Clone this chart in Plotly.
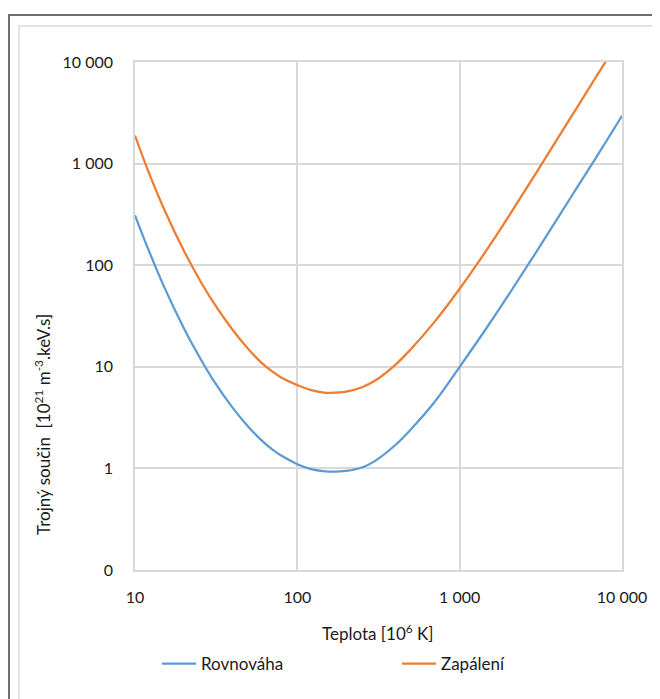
import plotly.graph_objects as go

# Temperature [10^6 K]
teplota = [10, 12, 15, 20, 25, 30, 40, 50, 60, 70, 80, 100, 120, 150, 160, 200, 250,
           300, 400, 500, 700, 1000, 1500, 2000, 3000, 5000, 7000, 8000, 10000]

rovnovaha = [310, 147, 63, 24, 12.4, 7.6, 3.94, 2.56, 1.9, 1.54, 1.33, 1.1, 0.99, 0.935,
             0.93, 0.945, 1.02, 1.18, 1.69, 2.42, 4.5, 10, 25.5, 51, 139, 505, 1180, 1660, 2950]

zapaleni = [1890, 863, 366, 139, 72, 44.5, 23, 14.9, 11.0, 9.0, 7.8, 6.6, 5.93, 5.55,
            5.53, 5.69, 6.29, 7.28, 10.4, 14.9, 27.7, 58.6, 149, 301, 838, 3100, 7330, 10300, None]

y_tickvals = [0.1, 1, 10, 100, 1000, 10000]
y_ticktext = ["0", "1", "10", "100", "1 000", "10 000"]
x_tickvals = [10, 100, 1000, 10000]
x_ticktext = ["10", "100", "1 000", "10 000"]

W, H = 660, 699
OFF = 8  # page body margin
L, R, T, B = 135 - OFF, 622 - OFF, 62 - OFF, 570 - OFF
pw, ph = R - L, B - T

def px(x):
    return (x - OFF - L) / pw

def py(y):
    return (B - (y - OFF)) / ph

FONT = "Lato"
TXT = "#1a1a1a"
GRID = "#d9d9d9"

fig = go.Figure()
fig.add_trace(go.Scatter(x=teplota, y=rovnovaha, mode="lines", name="Rovnováha", legend="legend",
                         line=dict(color="#5b9bd5", width=2.25, shape="spline", smoothing=1.0)))
fig.add_trace(go.Scatter(x=teplota, y=zapaleni, mode="lines", name="Zapálení", legend="legend2",
                         line=dict(color="#ed7d31", width=2.25, shape="spline", smoothing=1.0)))

leg_common = dict(xanchor="left", yanchor="middle", font=dict(size=17, color=TXT, family=FONT),
                  bgcolor="rgba(0,0,0,0)", itemwidth=34)

fig.update_layout(
    width=W, height=H,
    margin=dict(l=L, r=W - R, t=T, b=H - B),
    paper_bgcolor="white", plot_bgcolor="white",
    font=dict(family=FONT, size=16, color=TXT),
    showlegend=True,
    legend=dict(x=px(157), y=py(664), **leg_common),
    legend2=dict(x=px(397), y=py(664), **leg_common),
    xaxis=dict(type="log", range=[1, 4], tickvals=x_tickvals, ticktext=x_ticktext,
               showgrid=True, gridcolor=GRID, gridwidth=1.5, showline=True, linecolor=GRID,
               linewidth=1.5, mirror=True, ticks="", ticklabelstandoff=12, zeroline=False,
               tickfont=dict(size=16, color=TXT)),
    yaxis=dict(type="log", range=[-1, 4], tickvals=y_tickvals, ticktext=y_ticktext,
               showgrid=True, gridcolor=GRID, gridwidth=1.5, showline=True, linecolor=GRID,
               linewidth=1.5, mirror=True, ticks="", ticklabelstandoff=17, zeroline=False,
               tickfont=dict(size=16, color=TXT)),
    annotations=[
        dict(text="Trojný součin  [10<sup>21</sup> m<sup>-3</sup>.keV.s]", xref="paper", yref="paper",
             x=px(42), y=py(425), textangle=-90, showarrow=False, xanchor="center", yanchor="middle",
             font=dict(size=17, color=TXT, family=FONT)),
        dict(text="Teplota [10<sup>6</sup> K]", xref="paper", yref="paper",
             x=px(378), y=py(632), showarrow=False, xanchor="center", yanchor="middle",
             font=dict(size=17, color=TXT, family=FONT)),
    ],
    shapes=[
        dict(type="rect", xref="paper", yref="paper", x0=px(9), x1=px(720), y0=py(760), y1=py(15),
             line=dict(color="#6e6e6e", width=2), layer="below"),
        dict(type="rect", xref="paper", yref="paper", x0=px(19), x1=px(720), y0=py(760), y1=py(26),
             line=dict(color="#e3e3e3", width=2), layer="below"),
    ],
)

fig.write_html("out.html")
